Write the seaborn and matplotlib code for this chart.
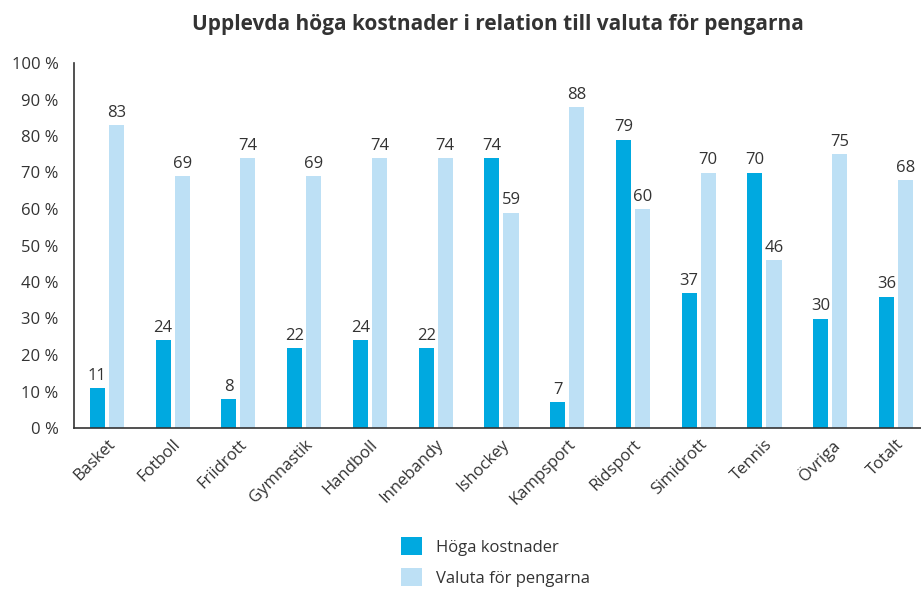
import pandas as pd
import matplotlib.pyplot as plt
import seaborn as sns

# Data
sports = ['Basket', 'Fotboll', 'Friidrott', 'Gymnastik', 'Handboll', 'Innebandy',
          'Ishockey', 'Kampsport', 'Ridsport', 'Simidrott', 'Tennis', 'Övriga', 'Totalt']
hoga_kostnader = [11, 24, 8, 22, 24, 22, 74, 7, 79, 37, 70, 30, 36]
valuta = [83, 69, 74, 69, 74, 74, 59, 88, 60, 70, 46, 75, 68]
series = ['Höga kostnader', 'Valuta för pengarna']
colors = ['#00a9e0', '#bde0f5']

df = pd.DataFrame({
    'sport': sports * 2,
    'serie': [series[0]] * len(sports) + [series[1]] * len(sports),
    'value': hoga_kostnader + valuta,
})

sns.set_style('white')
plt.rcParams['font.family'] = ['Open Sans', 'DejaVu Sans']
text_color = '#333333'
fs = 12

fig = plt.figure(figsize=(9.21, 5.90), dpi=100)
ax = fig.add_axes([74 / 921, 162 / 590, 1 - 74 / 921, (428 - 63) / 590])

sns.barplot(data=df, x='sport', y='value', hue='serie', palette=colors,
            width=0.58, gap=0.21, ax=ax, saturation=1, linewidth=0)

for c in ax.containers:
    ax.bar_label(c, padding=3, fontsize=fs, color=text_color)

ax.set_ylim(0, 100)
ax.set_xlim(-0.5, 12.38)
ax.set_yticks(range(0, 101, 10))
ax.set_yticklabels([f'{v} %' for v in range(0, 101, 10)], fontsize=fs, color=text_color)
ax.set_xticks(range(len(sports)))
ax.set_xticklabels(sports, rotation=45, ha='right', rotation_mode='anchor',
                   fontsize=fs, color=text_color)
ax.tick_params(axis='y', direction='inout', length=14, width=1.2, color=text_color, pad=4)
ax.tick_params(axis='x', length=0, pad=6)
ax.set_xlabel('')
ax.set_ylabel('')
sns.despine(ax=ax, top=True, right=True)
for s in ['left', 'bottom']:
    ax.spines[s].set_color(text_color)
    ax.spines[s].set_linewidth(1.2)

ax.set_title('Upplevda höga kostnader i relation till valuta för pengarna',
             fontsize=15, fontweight='bold', color=text_color, pad=24)

handles, labels = ax.get_legend_handles_labels()
ax.legend_.remove()
fig.legend(handles, labels, loc='center', bbox_to_anchor=(495 / 921, 1 - 562 / 590),
           frameon=False, fontsize=fs, handlelength=1.3, handleheight=1.3,
           labelspacing=0.75, handletextpad=0.8, labelcolor=text_color)

fig.savefig('out.png', dpi=100)
